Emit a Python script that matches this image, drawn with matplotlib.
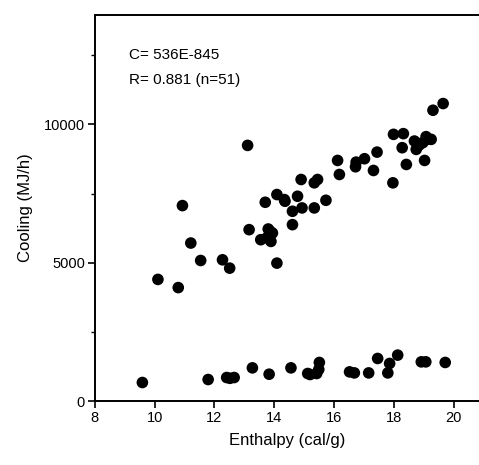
import matplotlib.pyplot as plt
from matplotlib.ticker import MultipleLocator

plt.rcParams['font.family'] = ['Liberation Sans', 'DejaVu Sans']

# upper group: enthalpy (cal/g) vs cooling (MJ/h)
upper_x = [13.11, 10.93, 13.70, 14.09, 14.36, 14.61, 14.61, 13.16, 13.80, 13.94,
           13.55, 13.89, 14.09, 11.21, 11.54, 12.27, 12.51, 10.11, 10.79, 19.65,
           19.31, 17.99, 18.32, 18.69, 19.08, 19.25, 18.97, 18.75, 18.28, 19.03,
           18.42, 17.44, 17.02, 16.74, 16.72, 17.32, 17.97, 16.12, 16.18, 15.45,
           15.34, 14.90, 15.73, 15.34, 14.93, 14.78, 14.34, 13.75, 13.85, 19.10,
           18.85]
upper_y = [9239, 7065, 7185, 7464, 7222, 6860, 6377, 6196, 6220, 6075,
           5833, 5772, 4988, 5713, 5083, 5108, 4807, 4400, 4105, 10749,
           10507, 9637, 9662, 9395, 9554, 9456, 9336, 9094, 9155, 8695,
           8550, 8996, 8757, 8634, 8467, 8333, 7887, 8695, 8188, 8007,
           7887, 8007, 7257, 6981, 6981, 7402, 7282, 5900, 6150, 9450,
           9250]

# lower group
lower_x = [9.59, 11.79, 12.41, 12.52, 12.66, 13.27, 13.83, 14.56, 15.12, 15.20,
           15.42, 15.49, 15.51, 16.52, 16.68, 17.16, 17.46, 17.80, 17.86, 18.13,
           18.92, 19.07, 19.72]
lower_y = [678, 786, 858, 830, 858, 1207, 978, 1207, 1003, 967,
           1003, 1150, 1402, 1062, 1025, 1025, 1546, 1025, 1366, 1667,
           1424, 1424, 1402]

fig = plt.figure(figsize=(4.79, 4.65), dpi=100)
ax = fig.add_axes([0.198, 0.137, 0.802, 0.831])

ax.scatter(upper_x, upper_y, s=70, c='black', edgecolors='none', zorder=3)
ax.scatter(lower_x, lower_y, s=70, c='black', edgecolors='none', zorder=3)

ax.set_xlim(8, 20.85)
ax.set_ylim(0, 13950)
ax.xaxis.set_major_locator(MultipleLocator(2))
ax.yaxis.set_major_locator(MultipleLocator(5000))
ax.yaxis.set_minor_locator(MultipleLocator(2500))

ax.spines['right'].set_visible(False)
for s in ['left', 'top', 'bottom']:
    ax.spines[s].set_linewidth(1.4)
ax.tick_params(axis='both', which='major', direction='out', length=5, width=1.2,
               labelsize=10.5, pad=2)
ax.tick_params(axis='y', which='minor', direction='out', length=3, width=1)

ax.set_xlabel('Enthalpy (cal/g)', fontsize=12, labelpad=6)
ax.set_ylabel('Cooling (MJ/h)', fontsize=12, labelpad=8)

ax.text(0.089, 0.896, 'C= 536E-845', transform=ax.transAxes, fontsize=11, va='center')
ax.text(0.089, 0.832, 'R= 0.881 (n=51)', transform=ax.transAxes, fontsize=11, va='center')

fig.savefig('out.png', dpi=100)
